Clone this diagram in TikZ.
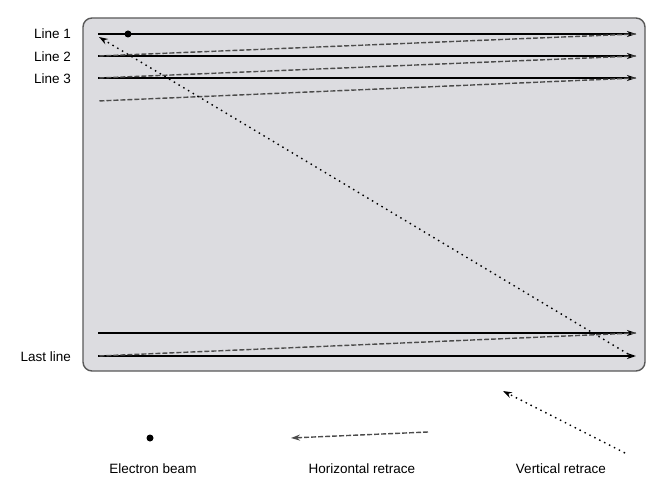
\documentclass[tikz,border=0pt]{standalone}
\usepackage{fontspec}
\setmainfont{Liberation Sans}
\usetikzlibrary{arrows.meta}
\definecolor{screengray}{RGB}{220,220,224}
\tikzset{
  scan/.style={line width=1.5pt, -{Stealth[length=9pt,width=6pt]}},
  hretrace/.style={line width=1.4pt, dash pattern=on 5pt off 2pt, black!70},
  vretrace/.style={line width=1.4pt, dash pattern=on 1.5pt off 4pt},
  lbl/.style={anchor=east, inner sep=0pt, font=\fontsize{13.5}{15}\selectfont}
}
\begin{document}
\begin{tikzpicture}[x=1pt, y=-1pt]
\useasboundingbox (0,0) rectangle (667,489);
\draw[rounded corners=9pt, fill=screengray, draw=black!65, line width=1.4pt] (83,18) rectangle (645,371);
% scan lines
\foreach \n/\y in {1/34, 2/56, 3/78, 9/333, 10/356} {
  \coordinate (s\n) at (98,\y);
  \coordinate (e\n) at (636,\y);
}
\coordinate (s4) at (98,101);
\foreach \n in {1,2,3,9,10}
  \draw[scan] (s\n) -- (e\n);
% horizontal retraces
\draw[hretrace] (e1) -- (s2);
\draw[hretrace] (e2) -- (s3);
\draw[hretrace] (e3) -- (s4);
\draw[hretrace] (e9) -- (s10);
% vertical retrace
\coordinate (vstart) at (628,354);
\draw[vretrace, -{Stealth[length=9pt,width=6pt]}] (vstart) -- (99,37);
\fill (128,34) circle (3.5pt);
% labels
\node[lbl] (line1) at (71,34) {Line 1};
\node[lbl] (line2) at (71,57) {Line 2};
\node[lbl] (line3) at (71,79) {Line 3};
\node[lbl] (lastline) at (71,357) {Last line};
% legend
\fill (150,438) circle (3.5pt);
\draw[hretrace, -{Stealth[length=9pt,width=6pt]}] (428,432) -- (291,438);
\draw[vretrace, -{Stealth[length=9pt,width=6pt]}] (625,453) -- (503,391);
\node[font=\fontsize{13.5}{15}\selectfont] (beam) at (153,469) {Electron beam};
\node[font=\fontsize{13.5}{15}\selectfont] (hret) at (362,469) {Horizontal retrace};
\node[font=\fontsize{13.5}{15}\selectfont] (vret) at (561,469) {Vertical retrace};
\end{tikzpicture}
\end{document}
